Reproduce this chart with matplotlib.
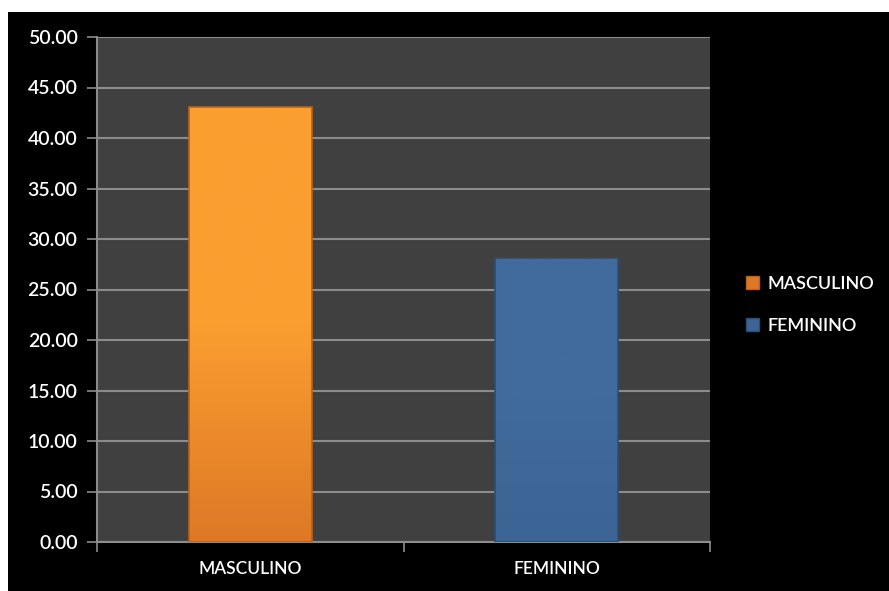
import matplotlib.pyplot as plt
import numpy as np
from matplotlib.patches import Patch
from matplotlib.colors import LinearSegmentedColormap

categories = ["MASCULINO", "FEMININO"]
values = [43.1, 28.1]
yticks = [0, 5, 10, 15, 20, 25, 30, 35, 40, 45, 50]

top_colors = ["#FA9E30", "#416B9C"]
bottom_colors = ["#DE7826", "#3C6494"]
edge_colors = ["#B8621C", "#2D4D73"]

plt.rcParams['font.family'] = ['Lato', 'DejaVu Sans']

fig = plt.figure(figsize=(8.89, 5.91), dpi=100, facecolor="white")
# black chart area, small white margin at top and left
bg = fig.add_axes([8 / 889, 0, 1 - 8 / 889, 1 - 12 / 591])
bg.set_facecolor("black")
bg.set_xticks([])
bg.set_yticks([])
for s in bg.spines.values():
    s.set_visible(False)

ax = fig.add_axes([97 / 889, 1 - 542 / 591, (710 - 97) / 889, (542 - 37) / 591])
ax.set_facecolor("#404040")

x = np.arange(len(categories))
bars = ax.bar(x, values, width=0.4, color="none", edgecolor="none", zorder=3)

for b, c1, c2, ec in zip(bars, top_colors, bottom_colors, edge_colors):
    cmap = LinearSegmentedColormap.from_list("g", [c2, c1, c1])
    grad = np.linspace(0, 1, 256).reshape(-1, 1)
    x0, y0, w, h = b.get_x(), b.get_y(), b.get_width(), b.get_height()
    im = ax.imshow(grad, cmap=cmap, origin="lower", aspect="auto",
                   extent=[x0, x0 + w, y0, y0 + h], zorder=3)
    im.set_clip_path(b)
    b.set_edgecolor(ec)
    b.set_linewidth(1.2)
    b.set_zorder(4)

ax.set_xlim(-0.5, 1.5)
ax.set_ylim(0, 50)
ax.set_yticks(yticks)
ax.set_yticklabels(["%.2f" % v for v in yticks])
ax.set_xticks(x)
ax.set_xticklabels(categories)
ax.set_xticks([-0.5, 0.5, 1.5], minor=True)
ax.tick_params(axis="x", which="major", length=0, labelcolor="white", labelsize=12.5, pad=14)
ax.tick_params(axis="x", which="minor", length=7, color="#8C8C8C", width=1.2)
ax.tick_params(axis="y", length=7, color="#8C8C8C", width=1.2, labelcolor="white",
               labelsize=14, pad=7)
for t in ax.get_xticklabels() + ax.get_yticklabels():
    t.set_fontweight("semibold")

ax.grid(axis="y", color="#8C8C8C", linewidth=1.5, zorder=0)
ax.set_axisbelow(True)
for side in ["top", "right"]:
    ax.spines[side].set_visible(False)
for side in ["left", "bottom"]:
    ax.spines[side].set_color("#8C8C8C")
    ax.spines[side].set_linewidth(1.5)

handles = [Patch(facecolor=c, edgecolor=e) for c, e in zip(bottom_colors, edge_colors)]
leg = fig.legend(handles, categories, loc="center left", bbox_to_anchor=(730 / 889, 1 - 305 / 591),
                 frameon=False, labelcolor="white", handlelength=0.7,
                 handleheight=0.7, handletextpad=0.45, labelspacing=1.45,
                 prop={"weight": "semibold", "size": 13})

fig.savefig("out.png", dpi=100, facecolor="white")
